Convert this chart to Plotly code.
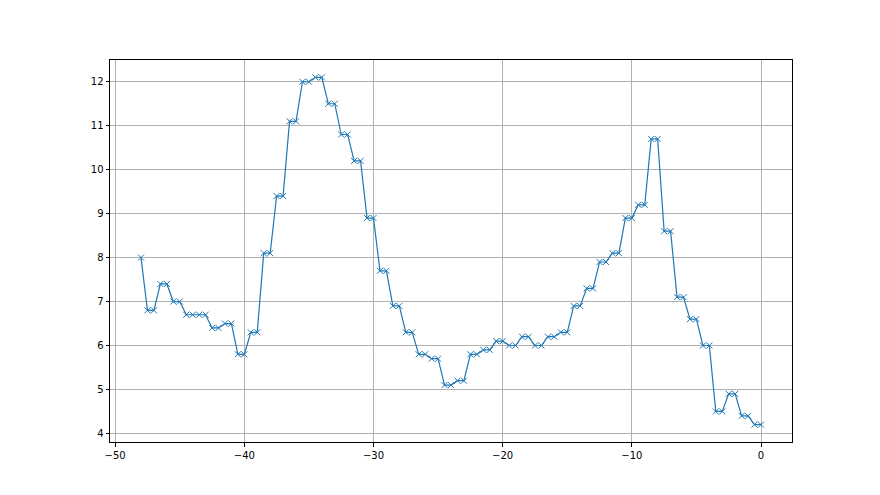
import plotly.graph_objects as go

x_vals = [-48.0] + [v * 0.5 for v in range(-95, 1)]
first_value = [8.0]
pair_values = [6.8, 7.4, 7.0, 6.7, 6.7, 6.4, 6.5, 5.8, 6.3, 8.1,
               9.4, 11.1, 12.0, 12.1, 11.5, 10.8, 10.2, 8.9, 7.7, 6.9,
               6.3, 5.8, 5.7, 5.1, 5.2, 5.8, 5.9, 6.1, 6.0, 6.2,
               6.0, 6.2, 6.3, 6.9, 7.3, 7.9, 8.1, 8.9, 9.2, 10.7,
               8.6, 7.1, 6.6, 6.0, 4.5, 4.9, 4.4, 4.2]
y_vals = first_value + [v for v in pair_values for _ in range(2)]

x_ticks = [-50, -40, -30, -20, -10, 0]
y_ticks = [4, 5, 6, 7, 8, 9, 10, 11, 12]

fig = go.Figure()
fig.add_trace(go.Scatter(
    x=x_vals, y=y_vals, mode="lines+markers",
    line=dict(color="#1f77b4", width=1.2),
    marker=dict(symbol="x-thin", size=6, color="#1f77b4",
                line=dict(color="#1f77b4", width=1)),
    showlegend=False,
))

axis_common = dict(
    showline=True, linecolor="black", linewidth=1, mirror=True,
    ticks="outside", ticklen=3.5, tickwidth=1, tickcolor="black",
    showgrid=True, gridcolor="#b0b0b0", gridwidth=0.8,
    zeroline=False, automargin=False,
    tickfont=dict(family="DejaVu Sans", size=10, color="black"),
)

fig.update_layout(
    width=880, height=495,
    margin=dict(l=102, r=96, t=52, b=61),
    paper_bgcolor="white", plot_bgcolor="white",
    xaxis=dict(range=[-50.4, 2.4], tickvals=x_ticks,
               ticktext=[("\u2212" + str(-t)) if t < 0 else str(t) for t in x_ticks],
               **axis_common),
    yaxis=dict(range=[3.805, 12.495], tickvals=y_ticks, **axis_common),
)

fig.write_html("out.html")
